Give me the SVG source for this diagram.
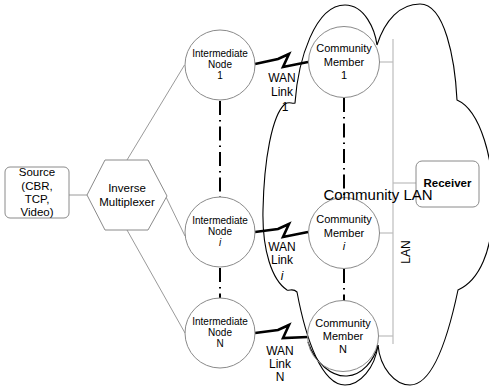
<svg xmlns="http://www.w3.org/2000/svg" width="489" height="389" viewBox="0 0 489 389">
  <style>
    text { font-family: "Liberation Sans", Arial, sans-serif; fill: #000; text-anchor: middle; }
    .box { fill: #fff; stroke: #8a8a8a; stroke-width: 1; }
    .node { fill: none; stroke: #8a8a8a; stroke-width: 1; }
    .link { fill: none; stroke: #9a9a9a; stroke-width: 1; }
    .lan { fill: none; stroke: #bdbdbd; stroke-width: 1.2; }
    .chain { fill: none; stroke: #000; stroke-width: 2; stroke-dasharray: 14 5 1.5 5; }
    .bolt { fill: none; stroke: #000; stroke-width: 2.6; stroke-linejoin: miter; stroke-miterlimit: 10; }
    .cloud { fill: none; stroke: #000; stroke-width: 1.1; }
    .small { font-size: 10px; }
    .mid { font-size: 11px; }
    .lbl { font-size: 12px; }
  </style>

  <!-- community LAN cloud outline -->
  <g id="cloud">
    <path class="cloud" d="M295,103 C298,60 315,5 345,5 C365,5 375,30 377,45 C385,20 400,4 420,4 C445,4 455,60 457,100 C480,110 495,160 493,210 C492,250 480,280 458,290 C450,328 435,385 410,385 C395,385 380,368 378,345 C375,368 360,385 345,385 C322,385 306,340 297,292 C293,288 290,291 287,290 C272,280 262,250 263,210 C264,160 272,115 285,104 C289,101 292,104 295,103 Z"/>
    <path class="cloud" d="M308,342 C315,363 332,377 347,376 C362,375 374,361 378,345"/>
  </g>

  <g id="connectors">
    <!-- source to multiplexer, multiplexer fan-out -->
    <line class="link" x1="69" y1="195" x2="87" y2="195"/>
    <line class="link" x1="127" y1="160" x2="184.5" y2="65"/>
    <line class="link" x1="148" y1="160" x2="185" y2="236"/>
    <line class="link" x1="127" y1="230" x2="185" y2="333"/>
    <!-- elided node chains -->
    <line class="chain" x1="220" y1="101" x2="220" y2="197"/>
    <line class="chain" x1="220" y1="268" x2="220" y2="298"/>
    <line class="chain" x1="344" y1="98" x2="344" y2="198"/>
    <line class="chain" x1="344" y1="269" x2="344" y2="301"/>
    <!-- WAN links -->
    <polyline class="bolt" points="255,64 278,59 289,54 283,67 308,62"/>
    <polyline class="bolt" points="255,232 278,229 289,224 283,237 308,232"/>
    <polyline class="bolt" points="255,333 278,330 289,325 283,338 308,337"/>
    <!-- LAN bus -->
    <line class="lan" x1="393" y1="39" x2="393" y2="344"/>
    <line class="lan" x1="379" y1="62" x2="393" y2="62"/>
    <line class="lan" x1="379" y1="233" x2="393" y2="233"/>
    <line class="lan" x1="379" y1="336" x2="393" y2="336"/>
    <line class="lan" x1="393" y1="183" x2="416" y2="183"/>
  </g>

  <g id="wan-labels">
    <text x="282" y="82" class="lbl">WAN</text>
    <text x="282" y="96" class="lbl">Link</text>
    <text x="285" y="111" class="lbl">1</text>
    <text x="282" y="251" class="lbl">WAN</text>
    <text x="282" y="264" class="lbl">Link</text>
    <text x="282" y="280" class="lbl" font-style="italic">i</text>
    <text x="280" y="355" class="lbl">WAN</text>
    <text x="280" y="368" class="lbl">Link</text>
    <text x="280" y="381" class="lbl">N</text>
  </g>

  <g id="lan-label">
    <text class="lbl" transform="translate(410,252) rotate(-90)">LAN</text>
  </g>

  <g id="source">
    <rect class="box" x="5" y="167" width="64" height="51" rx="5"/>
    <text x="37" y="176" style="font-size:11.5px">Source</text>
    <text x="37" y="189.5" style="font-size:11.5px">(CBR,</text>
    <text x="37" y="203" style="font-size:11.5px">TCP,</text>
    <text x="37" y="216" style="font-size:11.5px">Video)</text>
  </g>

  <g id="inverse-multiplexer">
    <polygon class="box" points="87,195 105,160 148,160 167,196 148,230 105,230"/>
    <text x="127" y="192" style="font-size:11.5px">Inverse</text>
    <text x="127" y="206" style="font-size:11.5px">Multiplexer</text>
  </g>

  <g id="intermediate-1">
    <circle class="node" cx="220" cy="65" r="35"/>
    <text x="220" y="57" class="small">Intermediate</text>
    <text x="220" y="68" class="small">Node</text>
    <text x="220" y="79" class="small">1</text>
  </g>
  <g id="intermediate-i">
    <circle class="node" cx="220" cy="232" r="35"/>
    <text x="220" y="224" class="small">Intermediate</text>
    <text x="220" y="235" class="small">Node</text>
    <text x="220" y="246" class="small" font-style="italic">i</text>
  </g>
  <g id="intermediate-n">
    <circle class="node" cx="220" cy="333" r="35"/>
    <text x="220" y="325" class="small">Intermediate</text>
    <text x="220" y="336" class="small">Node</text>
    <text x="220" y="347" class="small">N</text>
  </g>

  <g id="member-1">
    <circle class="node" cx="344" cy="62" r="35.5"/>
    <text x="344" y="52" class="mid">Community</text>
    <text x="344" y="66" class="mid">Member</text>
    <text x="344" y="79" class="mid">1</text>
  </g>
  <g id="member-i">
    <circle class="node" cx="344" cy="233" r="35.5"/>
    <text x="344" y="223" class="mid">Community</text>
    <text x="344" y="236.5" class="mid">Member</text>
    <text x="344" y="250" class="mid" font-style="italic">i</text>
  </g>
  <g id="member-n">
    <circle class="node" cx="343" cy="336" r="35.5"/>
    <text x="343" y="327" class="mid">Community</text>
    <text x="343" y="340" class="mid">Member</text>
    <text x="343" y="353" class="mid">N</text>
  </g>

  <g id="receiver">
    <rect class="box" x="416" y="161" width="63" height="46" rx="6"/>
    <text x="447.5" y="187" style="font-size:11.5px;font-weight:bold">Receiver</text>
  </g>

  <!-- cloud title sits on top of everything -->
  <g id="cloud-title">
    <text x="378" y="200" style="font-size:15px">Community LAN</text>
  </g>
</svg>
